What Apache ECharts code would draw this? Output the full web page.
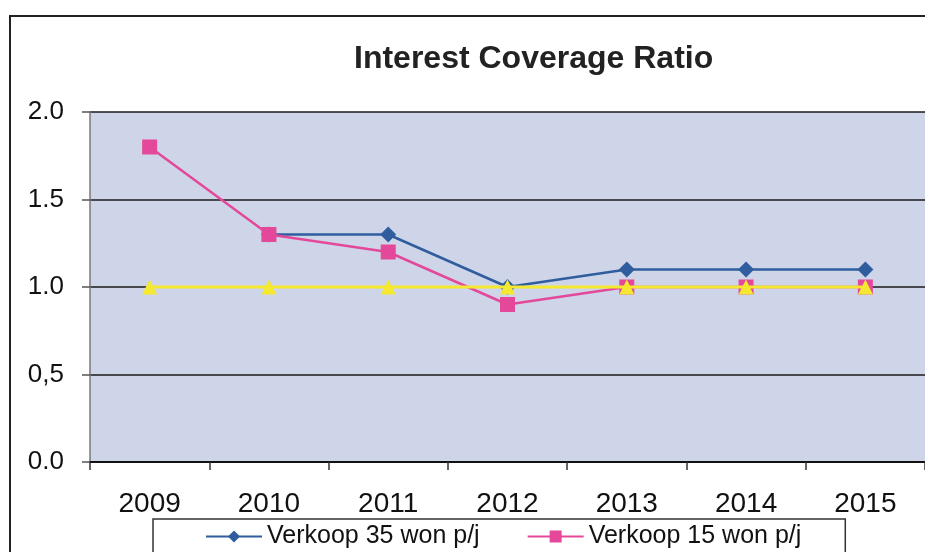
<!DOCTYPE html>
<html>
<head>
<meta charset="utf-8">
<script src="https://cdn.jsdelivr.net/npm/echarts@6/dist/echarts.min.js"></script>
<style>
html,body{margin:0;padding:0;background:#fff;}
#chart{width:925px;height:552px;}
</style>
</head>
<body>
<div id="chart"></div>
<script>
var categories = ['2009', '2010', '2011', '2012', '2013', '2014', '2015'];
var verkoop35 = [null, 1.3, 1.3, 1.0, 1.1, 1.1, 1.1];
var verkoop15 = [1.8, 1.3, 1.2, 0.9, 1.0, 1.0, 1.0];
var norm = [1.0, 1.0, 1.0, 1.0, 1.0, 1.0, 1.0];
var yTickLabels = ['0.0', '0,5', '1.0', '1.5', '2.0'];
var seriesNames = ['Verkoop 35 won p/j', 'Verkoop 15 won p/j', 'Norm'];

var chart = echarts.init(document.getElementById('chart'));
var font = 'Liberation Sans, Arial, sans-serif';
chart.setOption({
  animation: false,
  backgroundColor: '#ffffff',
  graphic: [{
    type: 'rect',
    shape: { x: 10, y: 16, width: 1000, height: 700 },
    style: { fill: 'none', stroke: '#222', lineWidth: 2 },
    silent: true, z: 0
  }],
  title: {
    text: 'Interest Coverage Ratio',
    left: 349,
    top: 38,
    textStyle: { fontFamily: font, fontWeight: 'bold', fontSize: 32, color: '#222' }
  },
  legend: {
    data: [seriesNames[0], seriesNames[1]],
    left: 153,
    top: 519,
    padding: [5, 44, 12, 52],
    itemGap: 47,
    itemWidth: 56,
    itemHeight: 15,
    borderColor: '#333',
    borderWidth: 1.5,
    textStyle: { fontFamily: font, fontSize: 25, color: '#111' }
  },
  grid: {
    left: 90, top: 112, width: 840, height: 350,
    show: true, backgroundColor: '#ced5e8', borderWidth: 0
  },
  xAxis: {
    type: 'category',
    data: categories,
    boundaryGap: true,
    axisLine: { lineStyle: { color: '#111', width: 2 } },
    axisTick: { show: true, interval: 0, length: 8, lineStyle: { color: '#333', width: 1.5 } },
    axisLabel: { margin: 28, fontFamily: font, fontSize: 28, color: '#111' }
  },
  yAxis: {
    type: 'value',
    min: 0, max: 2, interval: 0.5,
    axisLine: { show: true, lineStyle: { color: '#777', width: 1.5 } },
    axisTick: { show: true, length: 8, lineStyle: { color: '#555', width: 1.5 } },
    splitLine: { show: true, lineStyle: { color: '#1a1a1a', width: 1.5 } },
    axisLabel: {
      margin: 26, fontFamily: font, fontSize: 26, color: '#111',
      formatter: function (v) { return yTickLabels[Math.round(v / 0.5)]; }
    }
  },
  series: [
    {
      name: seriesNames[0], type: 'line', data: verkoop35,
      symbol: 'diamond', symbolSize: 16,
      lineStyle: { color: '#2f5d9e', width: 2.5 },
      itemStyle: { color: '#2f5d9e' }, z: 2
    },
    {
      name: seriesNames[1], type: 'line', data: verkoop15,
      symbol: 'rect', symbolSize: 15,
      lineStyle: { color: '#e4489a', width: 2.5 },
      itemStyle: { color: '#e4489a' }, z: 3
    },
    {
      name: seriesNames[2], type: 'line', data: norm,
      symbol: 'triangle', symbolSize: 15,
      lineStyle: { color: '#f4e830', width: 3 },
      itemStyle: { color: '#f4e830' }, z: 4
    }
  ]
});
</script>
</body>
</html>
